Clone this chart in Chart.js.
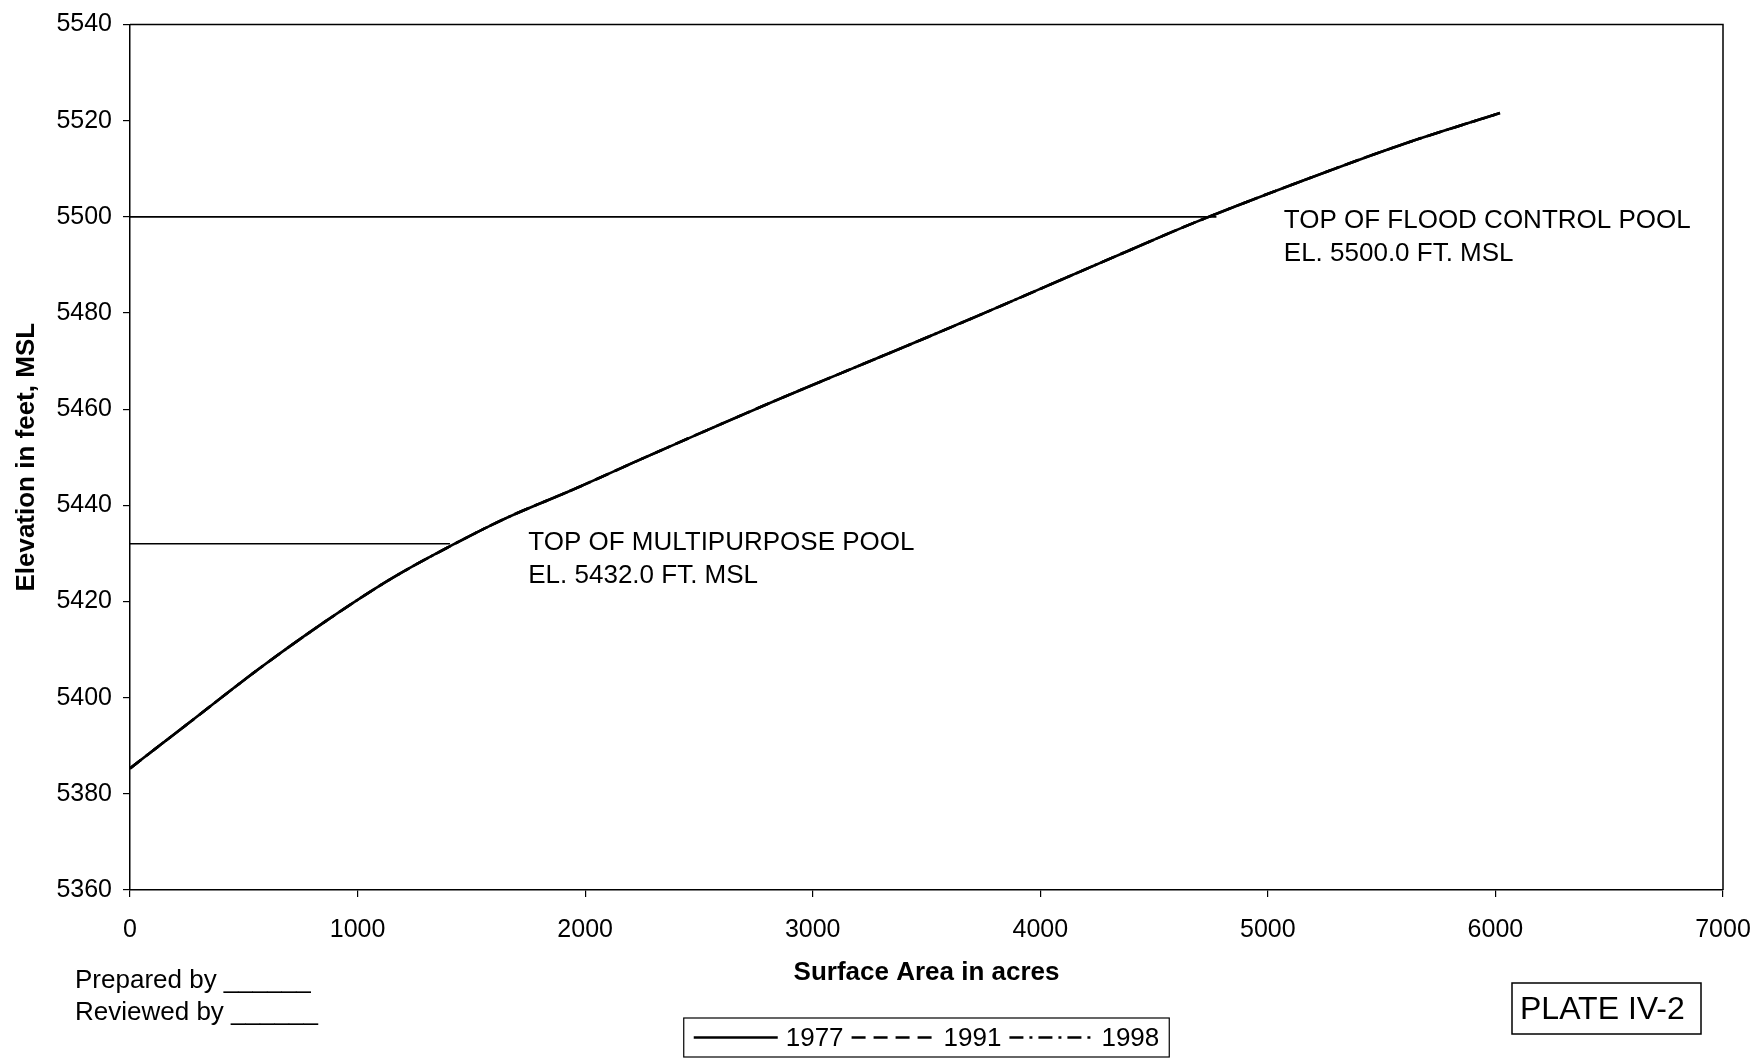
<!DOCTYPE html>
<html>
<head>
<meta charset="utf-8">
<title>Area-Elevation Curve</title>
<script src="https://cdn.jsdelivr.net/npm/chart.js@4.4.1/dist/chart.umd.min.js"></script>
<style>
  html, body { margin: 0; padding: 0; background: #ffffff; }
  canvas { display: block; }
</style>
</head>
<body>
<canvas id="chart" width="1758" height="1058"></canvas>
<script>
// Surveys of the reservoir area-elevation relationship
const surveyYears = ['1977', '1991', '1998'];

// Surface area (acres) and elevation (ft, MSL) for each survey
const area1977 = [0, 271, 564, 857, 1150, 1443, 1655, 1948, 2241, 2534, 2827, 3120, 3501, 3794, 4087, 4380, 4672, 5141, 5581, 6020];
const elev1977 = [5385.3, 5395.2, 5405.9, 5415.8, 5424.8, 5432.4, 5437.4, 5443.3, 5449.5, 5455.6, 5461.6, 5467.4, 5474.9, 5480.8, 5486.8, 5492.8, 5498.7, 5507.3, 5514.9, 5521.6];
const area1991 = [0, 271, 564, 857, 1150, 1443, 1655, 1948, 2241, 2534, 2827, 3120, 3501, 3794, 4087, 4380, 4672, 5141, 5581, 6020];
const elev1991 = [5385.3, 5395.2, 5405.9, 5415.8, 5424.8, 5432.4, 5437.4, 5443.3, 5449.5, 5455.6, 5461.6, 5467.4, 5474.9, 5480.8, 5486.8, 5492.8, 5498.7, 5507.3, 5514.9, 5521.6];
const area1998 = [0, 271, 564, 857, 1150, 1443, 1655, 1948, 2241, 2534, 2827, 3120, 3501, 3794, 4087, 4380, 4672, 5141, 5581, 6020];
const elev1998 = [5385.3, 5395.2, 5405.9, 5415.8, 5424.8, 5432.4, 5437.4, 5443.3, 5449.5, 5455.6, 5461.6, 5467.4, 5474.9, 5480.8, 5486.8, 5492.8, 5498.7, 5507.3, 5514.9, 5521.6];

// Pool levels: leader lines from the axis to the curve
const multipurposePoolArea = [0, 1406];
const multipurposePoolElev = [5432.0, 5432.0];
const floodControlPoolArea = [0, 4774];
const floodControlPoolElev = [5500.0, 5500.0];

// Pool annotation text
const multipurposeLabel = ['TOP OF MULTIPURPOSE POOL', 'EL. 5432.0 FT. MSL'];
const floodControlLabel = ['TOP OF FLOOD CONTROL POOL', 'EL. 5500.0 FT. MSL'];

// Axis ticks
const xTicks = [0, 1000, 2000, 3000, 4000, 5000, 6000, 7000];
const yTicks = [5360, 5380, 5400, 5420, 5440, 5460, 5480, 5500, 5520, 5540];

const FONT = "'Liberation Sans', Arial, Helvetica, sans-serif";

const toPoints = (xs, ys) => xs.map((x, i) => ({ x: x, y: ys[i] }));

const surveyStyles = [
  { dash: [] },
  { dash: [14, 8] },
  { dash: [14, 6, 3, 6] }
];

const surveySeries = [
  toPoints(area1977, elev1977),
  toPoints(area1991, elev1991),
  toPoints(area1998, elev1998)
];

const datasets = surveyYears.map((year, i) => ({
  label: year,
  data: surveySeries[i],
  showLine: true,
  borderColor: '#000000',
  borderWidth: 2.6,
  borderDash: surveyStyles[i].dash,
  pointRadius: 0,
  pointHoverRadius: 0,
  cubicInterpolationMode: 'monotone',
  fill: false,
  isSurvey: true
}));

datasets.push({
  label: 'multipurpose',
  data: toPoints(multipurposePoolArea, multipurposePoolElev),
  showLine: true, borderColor: '#000000', borderWidth: 1.6,
  pointRadius: 0, pointHoverRadius: 0, fill: false
});
datasets.push({
  label: 'flood control',
  data: toPoints(floodControlPoolArea, floodControlPoolElev),
  showLine: true, borderColor: '#000000', borderWidth: 1.6,
  pointRadius: 0, pointHoverRadius: 0, fill: false
});

// Frame, pool annotations, legend and sheet notes
const sheetPlugin = {
  id: 'sheet',
  afterDatasetsDraw(chart) {
    const { ctx, chartArea: a, scales: { x, y } } = chart;
    ctx.save();

    // plot frame (top and right edges)
    ctx.strokeStyle = '#000000';
    ctx.lineWidth = 1.5;
    ctx.beginPath();
    ctx.moveTo(a.left, a.top);
    ctx.lineTo(a.right, a.top);
    ctx.lineTo(a.right, a.bottom);
    ctx.stroke();

    // pool annotations
    ctx.fillStyle = '#000000';
    ctx.font = '26px ' + FONT;
    ctx.textAlign = 'left';
    ctx.textBaseline = 'alphabetic';
    const mx = x.getPixelForValue(1750);
    const my = y.getPixelForValue(multipurposePoolElev[0]) + 6;
    multipurposeLabel.forEach((t, i) => ctx.fillText(t, mx, my + i * 33));
    const fx = x.getPixelForValue(5070);
    const fy = y.getPixelForValue(floodControlPoolElev[0]) + 11;
    floodControlLabel.forEach((t, i) => ctx.fillText(t, fx, fy + i * 33));

    // legend
    const lineLen = 84, gapLine = 8, gapItem = 8, margin = 10;
    ctx.font = '26px ' + FONT;
    const items = chart.data.datasets.filter(d => d.isSurvey);
    const textW = items.map(d => ctx.measureText(d.label).width);
    let total = margin * 2;
    items.forEach((d, i) => { total += lineLen + gapLine + textW[i]; });
    total += gapItem * (items.length - 1);
    const cx = (a.left + a.right) / 2;
    const boxTop = 1018, boxH = 39;
    let lx = cx - total / 2;
    ctx.lineWidth = 1.2;
    ctx.setLineDash([]);
    ctx.strokeRect(lx, boxTop, total, boxH);
    const midY = boxTop + boxH / 2;
    lx += margin;
    items.forEach((d, i) => {
      ctx.beginPath();
      ctx.lineWidth = 2.5;
      ctx.setLineDash(d.borderDash || []);
      ctx.moveTo(lx, midY);
      ctx.lineTo(lx + lineLen, midY);
      ctx.stroke();
      ctx.setLineDash([]);
      lx += lineLen + gapLine;
      ctx.textBaseline = 'middle';
      ctx.fillText(d.label, lx, midY + 1);
      lx += textW[i] + gapItem;
    });

    // sign-off notes
    ctx.textBaseline = 'middle';
    ctx.textAlign = 'left';
    ctx.fillText('Prepared by ______', 75, 981);
    ctx.fillText('Reviewed by ______', 75, 1013);

    // plate number
    ctx.font = '32px ' + FONT;
    ctx.lineWidth = 1.5;
    ctx.strokeRect(1512, 983, 189, 51);
    ctx.fillText('PLATE IV-2', 1520, 1010);

    ctx.restore();
  }
};

const plainNumber = v => String(v);

new Chart(document.getElementById('chart'), {
  type: 'scatter',
  data: { datasets: datasets },
  options: {
    responsive: false,
    animation: false,
    events: [],
    layout: { padding: { left: 0, top: 24.5, right: 35, bottom: 0 } },
    plugins: {
      legend: { display: false },
      tooltip: { enabled: false },
      title: { display: false }
    },
    scales: {
      x: {
        type: 'linear',
        min: xTicks[0],
        max: xTicks[xTicks.length - 1],
        afterBuildTicks: s => { s.ticks = xTicks.map(v => ({ value: v })); },
        afterFit: s => { s.height = 168; s.paddingLeft = 0; s.paddingRight = 0; },
        ticks: {
          color: '#000000',
          font: { family: FONT, size: 25 },
          padding: 18,
          maxRotation: 0,
          autoSkip: false,
          callback: plainNumber
        },
        grid: {
          drawOnChartArea: false,
          drawTicks: true,
          tickLength: 7,
          color: '#000000',
          lineWidth: 1.2
        },
        border: { display: true, color: '#000000', width: 1.5 },
        title: {
          display: true,
          text: 'Surface Area in acres',
          color: '#000000',
          font: { family: FONT, size: 26, weight: 'bold', lineHeight: 1.2 },
          padding: { top: 0, bottom: 70 }
        }
      },
      y: {
        type: 'linear',
        min: yTicks[0],
        max: yTicks[yTicks.length - 1],
        afterBuildTicks: s => { s.ticks = yTicks.map(v => ({ value: v })); },
        afterFit: s => { s.width = 130; s.paddingTop = 0; s.paddingBottom = 0; },
        ticks: {
          color: '#000000',
          font: { family: FONT, size: 25 },
          padding: 11,
          callback: plainNumber
        },
        grid: {
          drawOnChartArea: false,
          drawTicks: true,
          tickLength: 7,
          color: '#000000',
          lineWidth: 1.2
        },
        border: { display: true, color: '#000000', width: 1.5 },
        title: {
          display: true,
          text: 'Elevation in feet, MSL',
          color: '#000000',
          font: { family: FONT, size: 26, weight: 'bold', lineHeight: 1.2 },
          padding: { top: 11, bottom: 0 }
        }
      }
    }
  },
  plugins: [sheetPlugin]
});
</script>
</body>
</html>
